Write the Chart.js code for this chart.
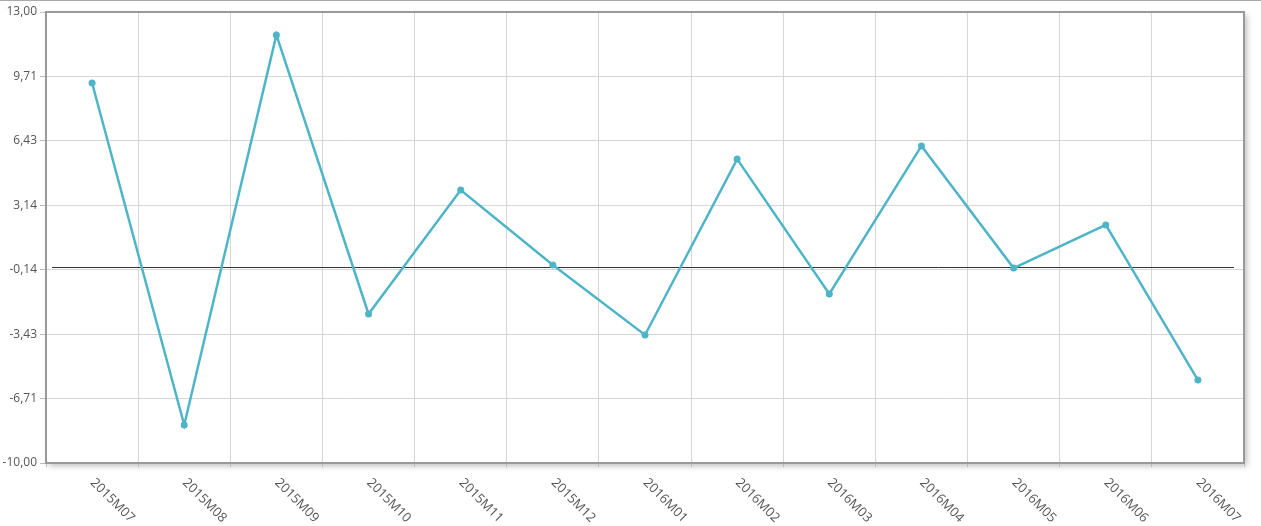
<!DOCTYPE html>
<html>
<head>
<meta charset="utf-8">
<script src="https://cdn.jsdelivr.net/npm/chart.js@4/dist/chart.umd.min.js"></script>
<style>
  html, body { margin: 0; padding: 0; background: #fff; }
  #wrap { width: 1261px; height: 526px; position: relative; }
</style>
</head>
<body>
<div id="wrap"><canvas id="chart"></canvas></div>
<script>
// categories and values
const months = ['2015M07', '2015M08', '2015M09', '2015M10', '2015M11', '2015M12', '2016M01',
  '2016M02', '2016M03', '2016M04', '2016M05', '2016M06', '2016M07'];
const values = [9.38, -8.06, 11.83, -2.40, 3.92, 0.10, -3.47, 5.50, -1.38, 6.17, -0.06, 2.14, -5.77];
const yMin = -10;
const yMax = 13;
const yTickCount = 8;

const lineColor = 'rgb(78, 181, 200)';
const textColor = '#555';
const fontFamily = '"Open Sans", "DejaVu Sans", sans-serif';

// frame, shadow, zero line and rotated month labels
const framePlugin = {
  id: 'frame',
  beforeDraw (chart) {
    const { ctx, chartArea: a } = chart;
    ctx.save();
    // thin line across the top of the page
    ctx.fillStyle = '#aaa';
    ctx.fillRect(0, 0, chart.width, 1);
    // drop shadow of the plot box
    ctx.shadowColor = 'rgba(0, 0, 0, 0.25)';
    ctx.shadowBlur = 6;
    ctx.shadowOffsetX = 3;
    ctx.shadowOffsetY = 3;
    ctx.fillStyle = '#fff';
    ctx.fillRect(a.left, a.top, a.right - a.left, a.bottom - a.top);
    ctx.restore();
  },
  beforeDatasetsDraw (chart) {
    const { ctx, chartArea: a, scales } = chart;
    ctx.save();
    // zero line
    const y0 = Math.round(scales.y.getPixelForValue(0)) + 0.5;
    ctx.strokeStyle = '#333';
    ctx.lineWidth = 1;
    ctx.beginPath();
    ctx.moveTo(a.left + 6, y0);
    ctx.lineTo(a.right - 10, y0);
    ctx.stroke();
    // box border
    ctx.strokeStyle = '#999';
    ctx.lineWidth = 2;
    ctx.strokeRect(a.left, a.top, a.right - a.left, a.bottom - a.top);
    ctx.restore();
  },
  afterDraw (chart) {
    const { ctx, chartArea: a, scales } = chart;
    ctx.save();
    ctx.fillStyle = textColor;
    ctx.font = '13px ' + fontFamily;
    ctx.textAlign = 'left';
    ctx.textBaseline = 'top';
    months.forEach((m, i) => {
      const x = scales.x.getPixelForValue(i);
      ctx.save();
      ctx.translate(x + 5, a.bottom + 13);
      ctx.rotate(Math.PI / 4);
      ctx.fillText(m, 0, 0);
      ctx.restore();
    });
    ctx.restore();
  }
};

const data = {
  labels: months,
  datasets: [{
    data: values,
    borderColor: lineColor,
    backgroundColor: lineColor,
    borderWidth: 2.5,
    pointRadius: 3.5,
    pointHoverRadius: 3.5,
    pointBorderWidth: 0,
    tension: 0,
    fill: false
  }]
};

const config = {
  type: 'line',
  data: data,
  options: {
    responsive: true,
    maintainAspectRatio: false,
    animation: false,
    layout: { padding: { top: 12, right: 17, left: 0, bottom: 0 } },
    plugins: {
      legend: { display: false },
      tooltip: { enabled: false }
    },
    scales: {
      x: {
        offset: true,
        border: { display: false },
        grid: {
          offset: true,
          color: '#d6d6d6',
          tickColor: '#bbb',
          tickLength: 4,
          drawTicks: true
        },
        ticks: { display: false },
        afterFit (scale) { scale.height = 63; }
      },
      y: {
        min: yMin,
        max: yMax,
        border: { display: false },
        grid: {
          color: '#d6d6d6',
          tickColor: '#bbb',
          tickLength: 6
        },
        ticks: {
          color: textColor,
          font: { family: fontFamily, size: 12 },
          padding: 3,
          callback: v => v.toFixed(2).replace('.', ',')
        },
        afterBuildTicks (scale) {
          const step = (yMax - yMin) / (yTickCount - 1);
          const ticks = [];
          for (let i = 0; i < yTickCount; i++) {
            ticks.push({ value: yMax - i * step });
          }
          scale.ticks = ticks;
        },
        afterFit (scale) { scale.width = 46; }
      }
    }
  },
  plugins: [framePlugin]
};

const myChart = new Chart(document.getElementById('chart'), config);
</script>
</body>
</html>
